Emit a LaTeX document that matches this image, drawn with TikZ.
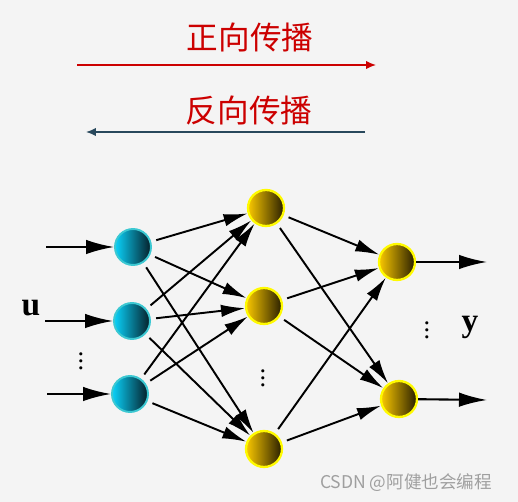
\documentclass[tikz,border=0pt]{standalone}
\usepackage{fontspec}
\setmainfont{Liberation Serif}
\newfontfamily\cjk{Noto Sans CJK SC}
\usetikzlibrary{positioning, arrows.meta}
\definecolor{fwdred}{RGB}{204,0,0}
\definecolor{bwdblue}{RGB}{40,72,92}
\definecolor{bgray}{RGB}{244,244,244}
\definecolor{inleft}{RGB}{10,210,250}
\definecolor{inright}{RGB}{5,30,40}
\definecolor{inedge}{RGB}{60,200,210}
\definecolor{nleft}{RGB}{250,200,0}
\definecolor{nright}{RGB}{40,30,0}
\definecolor{nedge}{RGB}{255,250,0}

\begin{document}
\begin{tikzpicture}[x=0.02cm, y=-0.02cm,
    inneuron/.style={circle, minimum size=0.72cm, inner sep=0pt, draw=inedge, line width=1.1pt, left color=inleft, middle color=inleft!85!inright, right color=inright},
    neuron/.style={circle, minimum size=0.72cm, inner sep=0pt, draw=nedge, line width=1.3pt, left color=nleft, middle color=nleft!85!nright, right color=nright},
    link/.style={-{Latex[length=0.48cm, width=0.25cm]}, line width=1.1pt, shorten <=3pt},
    signal/.style={-{Latex[length=0.56cm, width=0.29cm]}, line width=1.2pt},
    title/.style={font=\cjk\fontsize{18}{20}\selectfont, text=fwdred},
    label/.style={font=\fontsize{19}{20}\selectfont\bfseries},
    dots/.style={font=\fontsize{15}{16}\selectfont, inner sep=0pt}]

    %Background
    \fill[bgray] (0,0) rectangle (518,502);
    \useasboundingbox (0,0) rectangle (518,502);

    %Directions
    \node[title] (fwd) at (250,37) {正向传播};
    \node[title] (bwd) at (249,111) {反向传播};
    \coordinate (f1) at (77,65);
    \coordinate (f2) at (376,65);
    \coordinate (b1) at (365,132);
    \coordinate (b2) at (86,132);
    \draw[fwdred, line width=0.8pt, -{Latex[length=2mm, width=1.7mm]}] (f1) -- (f2);
    \draw[bwdblue, line width=0.9pt, -{Latex[length=2mm, width=1.7mm]}] (b1) -- (b2);

    %Neurons
    \node[inneuron] (i1) at (133,247) {};
    \node[inneuron] (i2) at (132,321) {};
    \node[inneuron] (i3) at (130,394) {};
    \node[neuron] (h1) at (266,208) {};
    \node[neuron] (h2) at (264,306) {};
    \node[neuron] (h3) at (264,449) {};
    \node[neuron] (o1) at (397,262) {};
    \node[neuron] (o2) at (399,399) {};

    %Inputs and outputs
    \coordinate (u1) at (46,247);
    \coordinate (u2) at (45,321);
    \coordinate (u3) at (47,394);
    \coordinate (y1) at (487,262);
    \coordinate (y2) at (487,400);
    \draw[signal] (u1) -- (i1);
    \draw[signal] (u2) -- (i2);
    \draw[signal] (u3) -- (i3);
    \draw[signal] (o1) -- (y1);
    \draw[signal] (o2) -- (y2);

    %Lines
    \draw[link] (i1) -- (h1);
    \draw[link] (i1) -- (h2);
    \draw[link] (i1) -- (h3);
    \draw[link] (i2) -- (h1);
    \draw[link] (i2) -- (h2);
    \draw[link] (i2) -- (h3);
    \draw[link] (i3) -- (h1);
    \draw[link] (i3) -- (h2);
    \draw[link] (i3) -- (h3);
    \draw[link] (h1) -- (o1);
    \draw[link] (h1) -- (o2);
    \draw[link] (h2) -- (o1);
    \draw[link] (h2) -- (o2);
    \draw[link] (h3) -- (o1);
    \draw[link] (h3) -- (o2);

    %Labels
    \node[label] (u) at (31,308) {u};
    \node[label] (y) at (470,327) {y};
    \node[dots] (idots) at (81,356) {$\vdots$};
    \node[dots] (hdots) at (263,373) {$\vdots$};
    \node[dots] (odots) at (427,325) {$\vdots$};
    \node[font=\cjk\fontsize{10}{12}\selectfont, text=gray!75] (mark) at (406,483) {CSDN @阿健也会编程};
\end{tikzpicture}
\end{document}
